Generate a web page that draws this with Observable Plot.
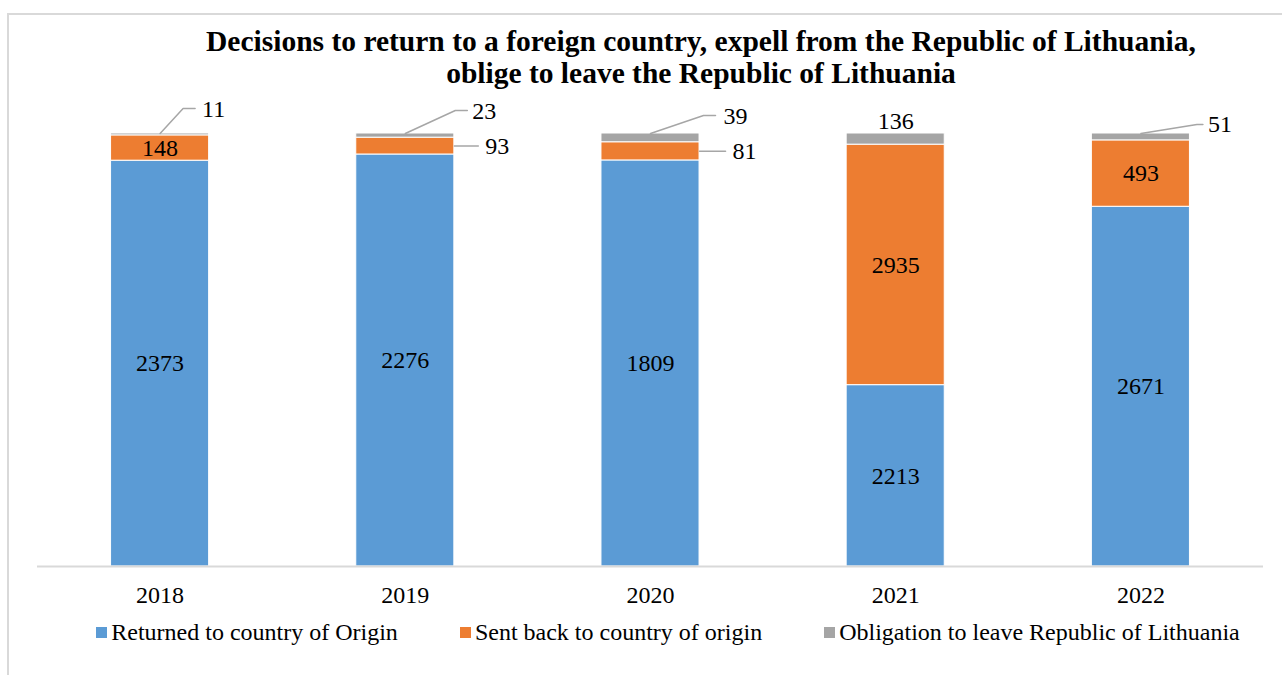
<!DOCTYPE html>
<html>
<head>
<meta charset="utf-8">
<script src="https://cdn.jsdelivr.net/npm/d3@7"></script>
<script src="https://cdn.jsdelivr.net/npm/@observablehq/plot@0.6"></script>
<style>
  html, body { margin: 0; padding: 0; background: #fff; overflow: hidden; }
  body { width: 1282px; height: 675px; position: relative; font-family: "Liberation Serif", "Times New Roman", serif; }
  #frame { position: absolute; left: 7px; top: 13px; width: 1400px; height: 800px; border-left: 2px solid #d9d9d9; border-top: 2px solid #d9d9d9; box-sizing: border-box; }
  #title { position: absolute; left: 0; top: 25px; width: 1402px; text-align: center; font-weight: bold; font-size: 29.5px; line-height: 32px; color: #000; white-space: nowrap; }
  #chart { position: absolute; left: 0; top: 95px; }
  #legend { position: absolute; left: 0; top: 619px; width: 1336px; display: flex; justify-content: center; font-size: 24px; color: #000; white-space: nowrap; }
  .item { display: flex; align-items: center; margin: 0 31px; }
  .sw { width: 11px; height: 11px; margin-right: 4px; }
</style>
</head>
<body>
<div id="frame"></div>
<div id="title">Decisions to return to a foreign country, expell from the Republic of Lithuania,<br>oblige to leave the Republic of Lithuania</div>
<div id="chart"></div>
<div id="legend"></div>
<script>
// ---- data ----
const years = ["2018", "2019", "2020", "2021", "2022"];
const seriesNames = ["Returned to country of Origin", "Sent back to country of origin", "Obligation to leave Republic of Lithuania"];
const returned = [2373, 2276, 1809, 2213, 2671];
const sentBack = [148, 93, 81, 2935, 493];
const obligation = [11, 23, 39, 136, 51];
const colors = ["#5B9BD5", "#ED7D31", "#A5A5A5"];

// ---- layout ----
const W = 1282, H = 520, mL = 37, mR = 19, mT = 38, mB = 49;
const xUnit = (W - mL - mR) / years.length;   // px per category
const yUnit = H - mT - mB;                    // px per 100%
const half = 0.2;
const FS = 24;

// build stacked (normalized) rows
const valuesBySeries = [returned, sentBack, obligation];
const rows = [];
years.forEach((yr, i) => {
  const total = returned[i] + sentBack[i] + obligation[i];
  let acc = 0;
  valuesBySeries.forEach((vals, s) => {
    const v = vals[i];
    const y1 = acc / total, y2 = (acc + v) / total;
    acc += v;
    rows.push({i, year: yr, series: seriesNames[s], s, value: v, y1, y2, mid: (y1 + y2) / 2});
  });
});
const get = (i, s) => rows.find(r => r.i === i && r.s === s);

// labels inside segments
const inside = rows.filter(r => r.s === 0 || (r.s === 1 && (r.i === 0 || r.i === 3 || r.i === 4)));

// outside labels with leader lines (offsets in pixels, relative to anchor)
const outside = [
  {i: 0, s: 2, ax: 0, pts: [[0,0],[23,-25],[35,-25]], tx: 42, ty: -24},
  {i: 1, s: 2, ax: 0, pts: [[0,0],[50,-23],[62,-23]], tx: 67, ty: -22},
  {i: 2, s: 2, ax: 0, pts: [[0,0],[53,-18],[65,-18]], tx: 73, ty: -17},
  {i: 4, s: 2, ax: 0, pts: [[0,0],[56,-9],[62,-9]], tx: 67, ty: -9},
  {i: 1, s: 1, ax: half, pts: [[0,0],[24,0]], tx: 31, ty: 0, mid: true},
  {i: 2, s: 1, ax: half, pts: [[0,0],[26,0]], tx: 33, ty: 0, mid: true}
];
const leaderPts = [];
const outLabels = [];
outside.forEach((o, k) => {
  const r = get(o.i, o.s);
  const ay = o.mid ? r.mid : r.y2;
  const ax = o.i + o.ax;
  o.pts.forEach(([px, py]) => leaderPts.push({k, x: ax + px / xUnit, y: ay - py / yUnit}));
  outLabels.push({x: ax + o.tx / xUnit, y: ay - o.ty / yUnit, text: String(r.value)});
});
const topLabel = [{x: 3, y: get(3, 2).y2, text: String(get(3, 2).value)}];

const chart = Plot.plot({
  width: W, height: H,
  marginLeft: mL, marginRight: mR, marginTop: mT, marginBottom: mB,
  style: {fontFamily: "'Liberation Serif', 'Times New Roman', serif", background: "transparent", overflow: "visible"},
  x: {type: "linear", domain: [-0.5, years.length - 0.5], axis: null},
  y: {domain: [0, 1], axis: null},
  marks: [
    Plot.rect(rows, {x1: d => d.i - half, x2: d => d.i + half, y1: "y1", y2: "y2",
      fill: d => colors[d.s], stroke: "#fff", strokeWidth: 1}),
    Plot.ruleY([0], {stroke: "#d9d9d9", strokeWidth: 2}),
    Plot.text(years.map((y, i) => ({i, y})), {x: "i", y: () => 0, text: "y", dy: 29, fontSize: FS, fill: "#000"}),
    Plot.text(inside, {x: "i", y: "mid", text: d => String(d.value), fontSize: FS, fill: "#000"}),
    Plot.line(leaderPts, {x: "x", y: "y", z: "k", stroke: "#a6a6a6", strokeWidth: 1.5}),
    Plot.text(outLabels, {x: "x", y: "y", text: "text", textAnchor: "start", fontSize: FS, fill: "#000"}),
    Plot.text(topLabel, {x: "x", y: "y", text: "text", dy: -12, fontSize: FS, fill: "#000"})
  ]
});
document.getElementById("chart").appendChild(chart);

const lg = document.getElementById("legend");
seriesNames.forEach((n, s) => {
  const it = document.createElement("div"); it.className = "item";
  const sw = document.createElement("div"); sw.className = "sw"; sw.style.background = colors[s];
  const tx = document.createElement("span"); tx.textContent = n;
  it.appendChild(sw); it.appendChild(tx); lg.appendChild(it);
});
</script>
</body>
</html>
